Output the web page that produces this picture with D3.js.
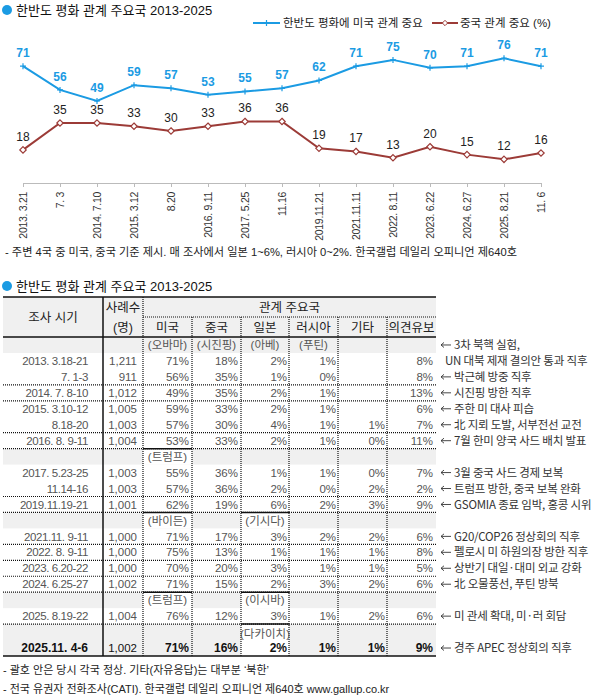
<!DOCTYPE html>
<html>
<head>
<meta charset="utf-8">
<script src="https://cdn.jsdelivr.net/npm/d3@7"></script>
<style>
  body { margin: 0; background: #fff; }
  text { font-family: "Liberation Sans", "Noto Sans CJK KR", sans-serif; }
</style>
</head>
<body>
<div id="chart"></div>
<script>
// line chart data
const surveyDates = ["2013. 3.21", "7. 3", "2014. 7.10", "2015. 3.12", "8.20", "2016. 9.11", "2017. 5.25",
  "11.16", "2019.11.21", "2021.11.11", "2022. 8.11", "2023. 6.22", "2024. 6.27", "2025. 8.21", "11. 6"];
const usImportance = [71, 56, 49, 59, 57, 53, 55, 57, 62, 71, 75, 70, 71, 76, 71];
const chinaImportance = [18, 35, 35, 33, 30, 33, 36, 36, 19, 17, 13, 20, 15, 12, 16];

// table data
const surveyPeriods = ["2013. 3.18-21", "7. 1-3", "2014. 7. 8-10", "2015. 3.10-12", "8.18-20", "2016. 8. 9-11",
  "2017. 5.23-25", "11.14-16", "2019.11.19-21", "2021.11. 9-11", "2022. 8. 9-11", "2023. 6.20-22",
  "2024. 6.25-27", "2025. 8.19-22", "2025.11. 4-6"];
const sampleSizes = ["1,211", "911", "1,012", "1,005", "1,003", "1,004", "1,003", "1,003", "1,001", "1,000",
  "1,000", "1,000", "1,002", "1,004", "1,002"];
const usPct = [71, 56, 49, 59, 57, 53, 55, 57, 62, 71, 75, 70, 71, 76, 71];
const chinaPct = [18, 35, 35, 33, 30, 33, 36, 36, 19, 17, 13, 20, 15, 12, 16];
const japanPct = [2, 1, 2, 2, 4, 2, 1, 2, 6, 3, 1, 3, 2, 3, 2];
const russiaPct = [1, 0, 1, 1, 1, 1, 1, 0, 2, 2, 1, 1, 3, 1, 1];
const otherPct = [null, null, null, null, 1, 0, 0, 2, 3, 2, 1, 1, 2, 2, 1];
const undecidedPct = [8, 8, 13, 6, 7, 11, 7, 2, 9, 6, 8, 5, 6, 6, 9];
const events = ["3차 북핵 실험,|UN 대북 제재 결의안 통과 직후", "박근혜 방중 직후", "시진핑 방한 직후", "주한 미 대사 피습",
  "北 지뢰 도발, 서부전선 교전", "7월 한미 양국 사드 배치 발표", "3월 중국 사드 경제 보복", "트럼프 방한, 중국 보복 완화",
  "GSOMIA 종료 임박, 홍콩 시위", "G20/COP26 정상회의 직후", "펠로시 미 하원의장 방한 직후", "상반기 대일·대미 외교 강화",
  "北 오물풍선, 푸틴 방북", "미 관세 확대, 미·러 회담", "경주 APEC 정상회의 직후"];
// leader rows: inserted before the data row index, names for 미국/중국/일본/러시아
const leaderBefore = [0, 6, 9, 13, 14];
const leaderNames = [
  ["(오바마)", "(시진핑)", "(아베)", "(푸틴)"],
  ["(트럼프)", null, null, null],
  ["(바이든)", null, "(기시다)", null],
  ["(트럼프)", null, "(이시바)", null],
  [null, null, "(다카이치)", null]
];
const countryNames = ["미국", "중국", "일본", "러시아", "기타", "의견유보"];

const W = 598, H = 699;
const blue = "#1b9be3", red = "#9c3b37";

const svg = d3.select("#chart").append("svg")
  .attr("width", W).attr("height", H);
svg.append("rect").attr("width", W).attr("height", H).attr("fill", "#fff");

// section titles
function sectionTitle(y, label) {
  svg.append("circle").attr("cx", 7).attr("cy", y).attr("r", 5).attr("fill", blue);
  svg.append("text").attr("x", 16).attr("y", y).attr("dy", "0.36em")
    .style("font-size", "13px").attr("fill", "#111").text(label);
}
sectionTitle(10, "한반도 평화 관계 주요국 2013-2025");

// ---- line chart ----
const x = d3.scalePoint().domain(surveyDates).range([23, 541]);
const y = d3.scaleLinear().domain([0, 80]).range([178.3, 52]);

const axis = svg.append("g")
  .attr("transform", "translate(0,183)")
  .call(d3.axisBottom(x).tickSize(4).tickSizeOuter(0));
axis.select(".domain").attr("stroke", "#bbb");
axis.selectAll(".tick line").attr("stroke", "#bbb");
axis.selectAll(".tick text")
  .attr("transform", "rotate(-90)")
  .attr("text-anchor", "end")
  .attr("x", -9).attr("y", 0).attr("dy", "0.35em")
  .attr("fill", "#333")
  .style("font-size", "10.5px")
  .style("letter-spacing", "-0.3px")
  .style("font-family", "\"Liberation Sans\", \"Noto Sans CJK KR\", sans-serif");

const line = d3.line().x((d, i) => x(surveyDates[i])).y(d => y(d));

svg.append("path").datum(usImportance)
  .attr("fill", "none").attr("stroke", blue).attr("stroke-width", 2).attr("d", line);
svg.append("path").datum(chinaImportance)
  .attr("fill", "none").attr("stroke", red).attr("stroke-width", 2).attr("d", line);

// markers
svg.selectAll(".usmark").data(usImportance).enter().append("path")
  .attr("d", (d, i) => {
    const cx = x(surveyDates[i]), cy = y(d);
    return `M${cx - 3},${cy}H${cx + 3}M${cx},${cy - 3}V${cy + 3}`;
  })
  .attr("stroke", blue).attr("stroke-width", 1.2);
svg.selectAll(".cnmark").data(chinaImportance).enter().append("path")
  .attr("transform", (d, i) => `translate(${x(surveyDates[i])},${y(d)})`)
  .attr("d", d3.symbol().type(d3.symbolDiamond2).size(26))
  .attr("fill", "#fff").attr("stroke", red).attr("stroke-width", 1.2);

// value labels
svg.selectAll(".uslab").data(usImportance).enter().append("text")
  .attr("x", (d, i) => x(surveyDates[i])).attr("y", d => y(d) - 9)
  .attr("text-anchor", "middle")
  .attr("fill", blue).style("font-size", "12px").style("font-weight", "bold")
  .text(d => d);
svg.selectAll(".cnlab").data(chinaImportance).enter().append("text")
  .attr("x", (d, i) => x(surveyDates[i])).attr("y", d => y(d) - 9)
  .attr("text-anchor", "middle")
  .attr("fill", "#222").style("font-size", "12px")
  .text(d => d);

// legend
const legend = svg.append("g").attr("transform", "translate(0,23)");
legend.append("line").attr("x1", 253).attr("x2", 280).attr("stroke", blue).attr("stroke-width", 2);
legend.append("path").attr("d", "M263.5,0H269.5M266.5,-3V3").attr("stroke", blue).attr("stroke-width", 1.2);
legend.append("text").attr("x", 283).attr("dy", "0.36em").style("font-size", "11.5px").attr("fill", "#222")
  .text("한반도 평화에 미국 관계 중요");
legend.append("line").attr("x1", 432).attr("x2", 458).attr("stroke", red).attr("stroke-width", 2);
legend.append("path").attr("transform", "translate(445,0)")
  .attr("d", d3.symbol().type(d3.symbolDiamond2).size(18))
  .attr("fill", "#fff").attr("stroke", red).attr("stroke-width", 1);
legend.append("text").attr("x", 460).attr("dy", "0.36em").style("font-size", "11.5px").attr("fill", "#222")
  .text("중국 관계 중요 (%)");

svg.append("text").attr("x", 5).attr("y", 252).attr("dy", "0.35em")
  .style("font-size", "11.2px").attr("fill", "#222")
  .text("- 주변 4국 중 미국, 중국 기준 제시. 매 조사에서 일본 1~6%, 러시아 0~2%. 한국갤럽 데일리 오피니언 제640호");

// ---- table ----
sectionTitle(286, "한반도 평화 관계 주요국 2013-2025");

const colX = [3, 103, 143, 192, 241, 289, 338, 387, 436];
const rowH = 15.95;
const headTop = 297, headMid = 317, headBot = 337;
const gray = "#f0f0f0";
const tbl = svg.append("g");

// header background
tbl.append("rect").attr("x", colX[0]).attr("y", headTop).attr("width", colX[8] - colX[0])
  .attr("height", headBot - headTop).attr("fill", gray);

// build row layout
const rows = [];
const hLines = [];
let yy = headBot;
surveyPeriods.forEach((p, i) => {
  const li = leaderBefore.indexOf(i);
  if (li >= 0) {
    if (i > 0) hLines.push({ y: yy, names: leaderNames[li] });
    rows.push({ type: "leader", y: yy, names: leaderNames[li], first: li === 0, last: i === surveyPeriods.length - 1 });
    yy += rowH;
  } else if (i > 0 && /^20/.test(p)) {
    hLines.push({ y: yy, names: null });
  }
  rows.push({ type: "data", y: yy, i, last: i === surveyPeriods.length - 1 });
  yy += rowH;
});
const tableBottom = yy;

// gray bands
rows.filter(r => r.type === "leader" || r.last).forEach(r => {
  tbl.append("rect").attr("x", colX[0]).attr("y", r.y).attr("width", colX[8] - colX[0])
    .attr("height", rowH).attr("fill", gray);
});
// white cells for new leaders
rows.filter(r => r.type === "leader" && !r.first).forEach(r => {
  r.names.forEach((n, k) => {
    if (!n) return;
    tbl.append("rect").attr("x", colX[2 + k]).attr("y", r.y).attr("width", colX[3 + k] - colX[2 + k])
      .attr("height", r.last ? rowH * 2 : rowH).attr("fill", "#fff");
  });
});

// horizontal group lines
hLines.forEach(l => {
  tbl.append("line").attr("x1", colX[0]).attr("x2", colX[8]).attr("y1", l.y).attr("y2", l.y)
    .attr("stroke", "#111").attr("stroke-width", 1.2).attr("stroke-dasharray", "1,1");
  if (l.names) l.names.forEach((n, k) => {
    if (!n) return;
    tbl.append("line").attr("x1", colX[2 + k]).attr("x2", colX[3 + k]).attr("y1", l.y).attr("y2", l.y)
      .attr("stroke", "#111").attr("stroke-width", 1.5);
  });
});

// header lines
tbl.append("line").attr("x1", colX[0]).attr("x2", colX[8]).attr("y1", headTop).attr("y2", headTop)
  .attr("stroke", "#111").attr("stroke-width", 1.5);
tbl.append("line").attr("x1", colX[2]).attr("x2", colX[8]).attr("y1", headMid).attr("y2", headMid)
  .attr("stroke", "#111").attr("stroke-width", 1.2).attr("stroke-dasharray", "1,1");
tbl.append("line").attr("x1", colX[0]).attr("x2", colX[8]).attr("y1", headBot).attr("y2", headBot)
  .attr("stroke", "#111").attr("stroke-width", 1.5);
tbl.append("line").attr("x1", colX[0]).attr("x2", colX[8]).attr("y1", tableBottom).attr("y2", tableBottom)
  .attr("stroke", "#111").attr("stroke-width", 1.5);

// vertical lines
tbl.append("line").attr("x1", colX[1]).attr("x2", colX[1]).attr("y1", headTop).attr("y2", tableBottom)
  .attr("stroke", "#111").attr("stroke-width", 1.5);
tbl.append("line").attr("x1", colX[2]).attr("x2", colX[2]).attr("y1", headTop).attr("y2", tableBottom)
  .attr("stroke", "#111").attr("stroke-width", 1.2).attr("stroke-dasharray", "1,1");
colX.slice(3, 8).forEach(cx => {
  tbl.append("line").attr("x1", cx).attr("x2", cx).attr("y1", headMid).attr("y2", tableBottom)
    .attr("stroke", "#111").attr("stroke-width", 1.2).attr("stroke-dasharray", "1,1");
});

// header text
const headStyle = t => t.style("font-size", "12.5px").attr("fill", "#222").attr("text-anchor", "middle").attr("dy", "0.36em");
headStyle(tbl.append("text").attr("x", (colX[0] + colX[1]) / 2).attr("y", headMid)).text("조사 시기");
headStyle(tbl.append("text").attr("x", (colX[1] + colX[2]) / 2).attr("y", (headTop + headMid) / 2)).text("사례수");
headStyle(tbl.append("text").attr("x", (colX[1] + colX[2]) / 2).attr("y", (headMid + headBot) / 2)).text("(명)");
headStyle(tbl.append("text").attr("x", (colX[2] + colX[8]) / 2).attr("y", (headTop + headMid) / 2)).text("관계 주요국");
countryNames.forEach((c, k) => {
  headStyle(tbl.append("text").attr("x", (colX[2 + k] + colX[3 + k]) / 2).attr("y", (headMid + headBot) / 2)).text(c);
});

// leader name text
rows.filter(r => r.type === "leader").forEach(r => {
  r.names.forEach((n, k) => {
    if (!n) return;
    tbl.append("text").attr("x", (colX[2 + k] + colX[3 + k]) / 2).attr("y", r.y + rowH / 2 + (r.last ? 1.5 : 0))
      .attr("dy", "0.36em")
      .attr("text-anchor", "middle").style("font-size", "11.5px").attr("fill", "#555").text(n);
  });
});

// data text
const pct = v => v == null ? "" : v + "%";
const noteFont = "\"Noto Sans CJK KR\", sans-serif";
function note(xPos, yPos, label, arrow) {
  if (arrow) {
    tbl.append("path")
      .attr("d", `M441,${yPos}H451M441,${yPos}l3,-2.5M441,${yPos}l3,2.5`)
      .attr("fill", "none").attr("stroke", "#333").attr("stroke-width", 0.9);
  }
  tbl.append("text").attr("x", xPos).attr("y", yPos).attr("dy", "0.36em")
    .style("font-family", noteFont).style("font-size", "11.5px").style("letter-spacing", "-0.2px")
    .attr("fill", "#333").text(label);
}
rows.filter(r => r.type === "data").forEach(r => {
  const i = r.i;
  const cy = r.y + rowH / 2;
  const cells = [surveyPeriods[i], sampleSizes[i], pct(usPct[i]), pct(chinaPct[i]), pct(japanPct[i]),
    pct(russiaPct[i]), pct(otherPct[i]), pct(undecidedPct[i])];
  const rightX = [88, 137, 189, 238, 287, 336, 385, 433];
  cells.forEach((c, k) => {
    const bold = r.last && k !== 1;
    tbl.append("text").attr("x", rightX[k]).attr("y", cy).attr("dy", "0.36em")
      .attr("text-anchor", "end")
      .style("font-size", bold ? "12px" : "11.5px")
      .style("font-weight", bold ? "bold" : "normal")
      .style("letter-spacing", k === 0 && !bold ? "-0.4px" : "0px")
      .attr("fill", r.last ? "#111" : "#555").text(c);
  });
  // annotation
  const parts = events[i].split("|");
  if (parts.length > 1) {
    note(454, cy - rowH, parts[0], true);
    note(445, cy, parts[1], false);
  } else {
    note(454, cy, parts[0], true);
  }
});

// footnotes
svg.append("text").attr("x", 3).attr("y", 670).attr("dy", "0.35em")
  .style("font-size", "11px").attr("fill", "#222")
  .text("- 괄호 안은 당시 각국 정상. 기타(자유응답)는 대부분 ‘북한’");
svg.append("text").attr("x", 3).attr("y", 689).attr("dy", "0.35em")
  .style("font-size", "11px").attr("fill", "#222")
  .text("- 전국 유권자 전화조사(CATI). 한국갤럽 데일리 오피니언 제640호 www.gallup.co.kr");
</script>
</body>
</html>
